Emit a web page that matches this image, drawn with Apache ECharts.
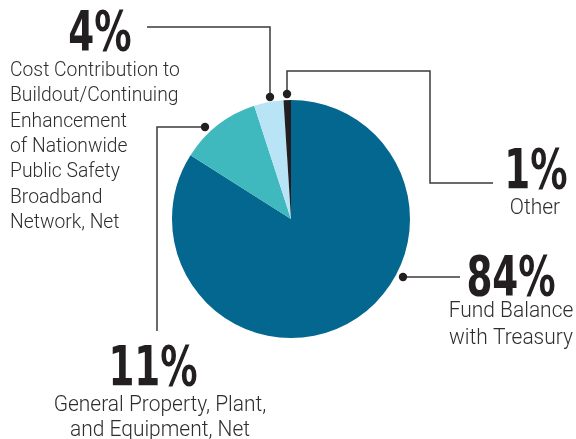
<!DOCTYPE html>
<html>
<head>
<meta charset="utf-8">
<script src="https://cdn.jsdelivr.net/npm/echarts@6/dist/echarts.min.js"></script>
<style>
  html, body { margin: 0; padding: 0; background: #ffffff; }
  #chart { width: 576px; height: 439px; }
</style>
</head>
<body>
<div id="chart"></div>
<script>
// Asset composition, clockwise from 12 o'clock
const categories = [
  'Fund Balance\nwith Treasury',
  'General Property, Plant,\nand Equipment, Net',
  'Cost Contribution to\nBuildout/Continuing\nEnhancement\nof Nationwide\nPublic Safety\nBroadband\nNetwork, Net',
  'Other'
];
const shares = [84, 11, 4, 1];
const sliceColors = ['#03678f', '#3fb9be', '#b8e4f6', '#231f20'];

const numFont = '"DejaVu Sans Condensed", "Liberation Sans", sans-serif';
const txtFont = 'Roboto, "DejaVu Sans Condensed", sans-serif';
const ink = '#231f20';
const lineInk = '#3a3a3a';

const chart = echarts.init(document.getElementById('chart'), null, { renderer: 'canvas' });

// callout layout: big percentage, caption and leader line for each slice
const callouts = [
  { idx: 0, num: [511, 280], cap: [511, 325], align: 'center', lh: 27, fs: 21.5, sx: 0.975,
    line: [[403, 277], [460, 277]] },
  { idx: 1, num: [153, 370], cap: [160, 418], align: 'center', lh: 25, fs: 21.5, sx: 0.975,
    line: [[205, 127], [157, 127], [157, 331]] },
  { idx: 2, num: [100, 35], cap: [10, 147], align: 'left', lh: 25.3, fs: 20, sx: 0.965,
    line: [[270, 97], [270, 27], [147, 27]] },
  { idx: 3, num: [536, 173], cap: [535, 209], align: 'center', lh: 25, fs: 21.5, sx: 0.975,
    line: [[287, 94], [287, 71], [430, 71], [430, 183], [493, 183]] }
];

const graphics = [];
callouts.forEach(c => {
  graphics.push({
    type: 'polyline', silent: true,
    shape: { points: c.line },
    style: { stroke: lineInk, lineWidth: 1.5, fill: null }
  });
  graphics.push({
    type: 'circle', silent: true,
    shape: { cx: c.line[0][0], cy: c.line[0][1], r: 4.2 },
    style: { fill: ink }
  });
  graphics.push({
    type: 'text', silent: true, x: c.num[0], y: c.num[1], scaleX: 0.74,
    style: {
      text: shares[c.idx] + '%',
      font: 'bold 56px ' + numFont,
      fill: ink, align: 'center', verticalAlign: 'middle'
    }
  });
  graphics.push({
    type: 'text', silent: true, x: c.cap[0], y: c.cap[1], scaleX: c.sx,
    style: {
      text: categories[c.idx],
      font: '300 ' + c.fs + 'px ' + txtFont,
      lineHeight: c.lh,
      fill: '#2e2e2e', align: c.align, verticalAlign: 'middle'
    }
  });
});

chart.setOption({
  animation: false,
  backgroundColor: '#ffffff',
  series: [{
    type: 'pie',
    center: [291, 219],
    radius: 119,
    startAngle: 90,
    clockwise: true,
    label: { show: false },
    labelLine: { show: false },
    emphasis: { disabled: true },
    itemStyle: { borderWidth: 0 },
    data: shares.map((v, i) => ({
      name: categories[i], value: v, itemStyle: { color: sliceColors[i] }
    }))
  }],
  graphic: graphics
});
</script>
</body>
</html>
